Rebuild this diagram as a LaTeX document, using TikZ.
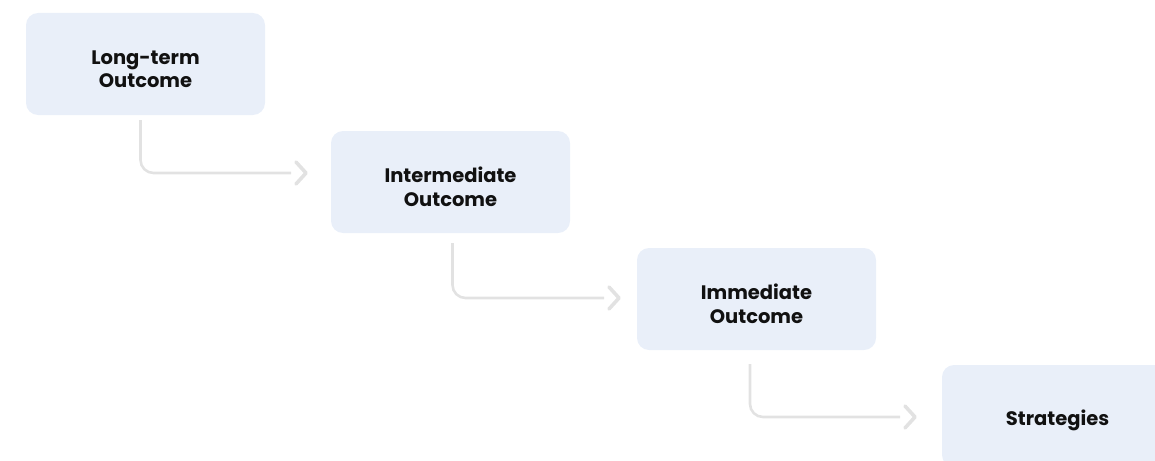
\documentclass[tikz,border=0pt]{standalone}
\usepackage{fontspec}
\setmainfont{Poppins}
\usetikzlibrary{calc}
\definecolor{boxfill}{HTML}{E9EFF9}
\definecolor{connc}{HTML}{E2E2E2}
\definecolor{txt}{HTML}{111111}
\tikzset{
  stagebox/.style={rectangle, rounded corners=12pt, fill=boxfill, draw=none,
    minimum width=239pt, minimum height=102pt, inner sep=0pt},
  stagetext/.style={inner sep=0pt, text width=220pt, align=center, text=txt,
    font=\fontsize{19.5}{23.5}\selectfont\bfseries},
  conn/.style={draw=connc, line width=2.6pt, rounded corners=13pt},
  chev/.style={draw=connc, line width=3.6pt, line cap=round, line join=round},
}
\begin{document}
\begin{tikzpicture}[x=1pt,y=-1pt]
\useasboundingbox (0,0) rectangle (1155,460);
\clip (0,0) rectangle (1155,460);
\node[stagebox] (b1) at (145.5,64) {};
\node[stagebox] (b2) at (450.5,182) {};
\node[stagebox] (b3) at (756.5,299) {};
\node[stagebox] (b4) at (1061.5,416) {};
\node[stagetext] (t1) at ([yshift=-5pt]b1.center) {Long-term\\Outcome};
\node[stagetext] (t2) at ([yshift=-5pt]b2.center) {Intermediate\\Outcome};
\node[stagetext] (t3) at ([yshift=-5pt]b3.center) {Immediate\\Outcome};
\node[stagetext] (t4) at ([xshift=-4pt,yshift=-4pt]b4.center) {Strategies};
% arrow end points
\coordinate (a1) at (291,173);
\coordinate (a2) at (604,298);
\coordinate (a3) at (900,417);
\draw[conn] ($(b1.south)+(-5,5)$) |- (a1);
\draw[chev] ($(a1)+(5,-11)$) -- ($(a1)+(15,0)$) -- ($(a1)+(5,11)$);
\draw[conn] ($(b2.south)+(2,10)$) |- (a2);
\draw[chev] ($(a2)+(5,-11)$) -- ($(a2)+(15,0)$) -- ($(a2)+(5,11)$);
\draw[conn] ($(b3.south)+(-6.5,14)$) |- (a3);
\draw[chev] ($(a3)+(5,-11)$) -- ($(a3)+(15,0)$) -- ($(a3)+(5,11)$);
\end{tikzpicture}
\end{document}
